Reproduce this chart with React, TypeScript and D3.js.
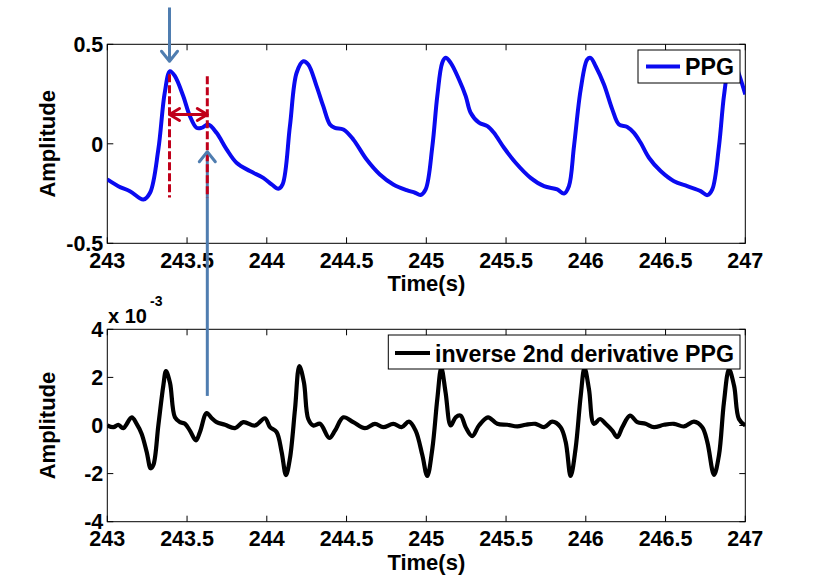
import React from "react";
import * as d3 from "d3";

const ppgT = [243.0,243.069,243.142,243.226,243.268,243.32,243.36,243.393,243.424,243.476,243.518,243.56,243.59,243.633,243.685,243.748,243.81,243.894,243.978,244.03,244.072,244.099,244.145,244.187,244.229,244.26,244.312,244.354,244.396,244.427,244.48,244.542,244.626,244.709,244.793,244.877,244.929,244.964,244.996,245.038,245.069,245.1,245.121,245.153,245.205,245.247,245.278,245.33,245.383,245.424,245.487,245.56,245.654,245.738,245.821,245.863,245.894,245.926,245.968,246.009,246.03,246.062,246.114,246.166,246.208,246.26,246.302,246.344,246.396,246.469,246.553,246.636,246.72,246.762,246.793,246.835,246.866,246.895,246.925,246.96,247.0];
const ppgV = [-0.179,-0.213,-0.238,-0.28,-0.246,-0.028,0.256,0.365,0.34,0.24,0.139,0.08,0.08,0.097,0.055,-0.028,-0.095,-0.137,-0.171,-0.204,-0.226,-0.204,0.089,0.357,0.415,0.399,0.29,0.189,0.097,0.08,0.072,0.022,-0.079,-0.154,-0.204,-0.233,-0.246,-0.257,-0.229,-0.012,0.24,0.407,0.432,0.407,0.323,0.24,0.156,0.106,0.089,0.055,-0.02,-0.095,-0.171,-0.213,-0.229,-0.25,-0.213,-0.012,0.273,0.424,0.432,0.39,0.298,0.173,0.097,0.085,0.055,0.005,-0.07,-0.137,-0.188,-0.213,-0.238,-0.258,-0.229,-0.012,0.24,0.38,0.42,0.35,0.248];

const derT = [243.0,243.038,243.069,243.1,243.153,243.184,243.215,243.247,243.272,243.289,243.32,243.351,243.368,243.393,243.424,243.456,243.487,243.518,243.556,243.581,243.623,243.655,243.685,243.738,243.8,243.853,243.926,243.988,244.02,244.061,244.093,244.12,244.145,244.177,244.204,244.233,244.26,244.292,244.334,244.392,244.428,244.48,244.542,244.615,244.678,244.73,244.793,244.845,244.891,244.933,244.975,245.006,245.038,245.069,245.094,245.121,245.153,245.184,245.215,245.247,245.288,245.33,245.387,245.445,245.508,245.571,245.623,245.685,245.738,245.79,245.842,245.874,245.905,245.936,245.968,245.992,246.02,246.051,246.089,246.124,246.166,246.197,246.229,246.277,246.323,246.375,246.427,246.49,246.553,246.615,246.678,246.73,246.762,246.804,246.835,246.866,246.898,246.93,246.96,247.0];
const derV = [0,-0.07,0.03,-0.11,0.34,0.07,-0.34,-1.1,-1.78,-1.64,0,1.65,2.26,1.78,0.34,0.14,0.07,-0.21,-0.62,-0.27,0.52,0.3,0.14,0.03,-0.11,0.14,0,0.3,-0.07,-0.27,-1.1,-2.06,-1.37,0.69,2.47,1.78,0.27,0,0.07,-0.52,-0.21,0.34,0.14,-0.11,0.07,-0.07,0.07,-0.07,0.16,-0.21,-1.23,-2.1,-0.96,1.1,2.4,1.37,0,0.34,0.41,-0.07,-0.44,0,0.34,0.07,0.03,-0.04,0.03,0.07,-0.07,0.16,-0.07,-0.69,-2.1,-0.96,1.23,2.4,1.5,0.07,0.27,0.07,-0.21,-0.48,-0.07,0.41,0.14,0.07,-0.07,0.03,0.07,-0.04,0.16,-0.07,-0.69,-2.05,-1.23,0.96,2.33,1.64,0.27,0];

const xTicks = [243, 243.5, 244, 244.5, 245, 245.5, 246, 246.5, 247];
const yTicksTop = [-0.5, 0, 0.5];
const yTicksBot = [-4, -2, 0, 2, 4];

const FONT = "'Liberation Sans', Arial, sans-serif";

export default function App() {
  const L = 107.3, R = 745.3;
  const top = { t: 44.3, b: 243.3 };
  const bot = { t: 329.3, b: 521.7 };
  const x = d3.scaleLinear().domain([243, 247]).range([L, R]);
  const yT = d3.scaleLinear().domain([-0.5, 0.5]).range([top.b, top.t]);
  const yB = d3.scaleLinear().domain([-4, 4]).range([bot.b, bot.t]);

  const ppgLine = d3.line<number>().x((_, i) => x(ppgT[i])).y((v) => yT(v)).curve(d3.curveCatmullRom.alpha(0.5));
  const derLine = d3.line<number>().x((_, i) => x(derT[i])).y((v) => yB(v)).curve(d3.curveCatmullRom.alpha(0.5));

  const tickLen = 6;
  const renderAxes = (yS: any, box: { t: number; b: number }, yTicks: number[], fmt: (v: number) => string) => (
    <g>
      <rect x={L} y={box.t} width={R - L} height={box.b - box.t} fill="none" stroke="#000" strokeWidth={1} />
      {xTicks.map((t) => (
        <g key={"x" + t}>
          <line x1={x(t)} x2={x(t)} y1={box.b} y2={box.b - tickLen} stroke="#000" />
          <line x1={x(t)} x2={x(t)} y1={box.t} y2={box.t + tickLen} stroke="#000" />
          <text x={x(t)} y={box.b + 24.5} textAnchor="middle" fontSize={21.5} fontWeight="bold" fontFamily={FONT}>{String(t)}</text>
        </g>
      ))}
      {yTicks.map((t) => (
        <g key={"y" + t}>
          <line x1={L} x2={L + tickLen} y1={yS(t)} y2={yS(t)} stroke="#000" />
          <line x1={R} x2={R - tickLen} y1={yS(t)} y2={yS(t)} stroke="#000" />
          <text x={L - 4} y={yS(t)} dy="0.36em" textAnchor="end" fontSize={21.5} fontWeight="bold" fontFamily={FONT}>{fmt(t)}</text>
        </g>
      ))}
      <text x={(L + R) / 2} y={box.b + 48} textAnchor="middle" fontSize={22} fontWeight="bold" fontFamily={FONT}>Time(s)</text>
      <text transform={`translate(55,${(box.t + box.b) / 2}) rotate(-90)`} textAnchor="middle" fontSize={22} fontWeight="bold" fontFamily={FONT}>Amplitude</text>
    </g>
  );

  // annotation positions in data coordinates
  const pkT = 243.39, dnT = 243.627;
  const arrowColor = "#4f7db0";
  const red = "#c0001a";
  const chevron = (tx: number, ty: number, dir: "up" | "down" | "left" | "right", c: string, w: number) => {
    const s = 8, h = 10;
    let pts: [number, number][] = [];
    if (dir === "down") pts = [[tx - s, ty - h], [tx, ty], [tx + s, ty - h]];
    if (dir === "up") pts = [[tx - s, ty + h], [tx, ty], [tx + s, ty + h]];
    if (dir === "left") pts = [[tx + h, ty - 6], [tx, ty], [tx + h, ty + 6]];
    if (dir === "right") pts = [[tx - h, ty - 6], [tx, ty], [tx - h, ty + 6]];
    return <polyline points={pts.map((p) => p.join(",")).join(" ")} fill="none" stroke={c} strokeWidth={w} strokeLinecap="round" strokeLinejoin="round" />;
  };

  return (
    <svg width={824} height={587} style={{ position: "absolute", left: 0, top: 0, background: "#fff" }}>
      <defs>
        <clipPath id="cpTop"><rect x={L} y={top.t} width={R - L} height={top.b - top.t} /></clipPath>
        <clipPath id="cpBot"><rect x={L} y={bot.t} width={R - L} height={bot.b - bot.t} /></clipPath>
      </defs>
      {renderAxes(yT, top, yTicksTop, (v) => String(v))}
      {renderAxes(yB, bot, yTicksBot, (v) => String(v))}

      <path d={ppgLine(ppgV) || ""} fill="none" stroke="#0a0af0" strokeWidth={4} clipPath="url(#cpTop)" strokeLinejoin="round" />
      <path d={derLine(derV) || ""} fill="none" stroke="#000" strokeWidth={4.2} clipPath="url(#cpBot)" strokeLinejoin="round" />

      {/* exponent label */}
      <text x={108} y={322.5} fontSize={20} fontWeight="bold" fontFamily={FONT}>x 10</text>
      <text x={150} y={306} fontSize={14} fontWeight="bold" fontFamily={FONT}>-3</text>

      {/* legends */}
      <rect x={638} y={50} width={102} height={33} fill="#fff" stroke="#000" strokeWidth={1} />
      <line x1={646} x2={680} y1={66.5} y2={66.5} stroke="#0a0af0" strokeWidth={4} />
      <text x={685} y={75} fontSize={23} fontWeight="bold" fontFamily={FONT} textLength={49} lengthAdjust="spacingAndGlyphs">PPG</text>
      <rect x={388.3} y={335} width={351.7} height={34} fill="#fff" stroke="#000" strokeWidth={1} />
      <line x1={395} x2={430} y1={353} y2={353} stroke="#000" strokeWidth={4.2} />
      <text x={435} y={361.5} fontSize={23} fontWeight="bold" fontFamily={FONT} textLength={299} lengthAdjust="spacingAndGlyphs">inverse 2nd derivative PPG</text>

      {/* annotations */}
      <line x1={x(pkT)} x2={x(pkT)} y1={yT(0.685)} y2={yT(0.415)} stroke={arrowColor} strokeWidth={3} />
      {chevron(x(pkT), yT(0.415), "down", arrowColor, 3)}
      <line x1={x(dnT)} x2={x(dnT)} y1={yB(1.23)} y2={yT(-0.04)} stroke={arrowColor} strokeWidth={3} />
      <line x1={x(pkT)} x2={x(pkT)} y1={yT(0.35)} y2={yT(-0.27)} stroke={red} strokeWidth={3} strokeDasharray="8,3" />
      <line x1={x(dnT)} x2={x(dnT)} y1={yT(0.34)} y2={yT(-0.27)} stroke={red} strokeWidth={3} strokeDasharray="8,3" />
      {chevron(x(dnT), yT(-0.04), "up", arrowColor, 3)}
      <line x1={x(pkT)} x2={x(dnT)} y1={yT(0.147)} y2={yT(0.147)} stroke={red} strokeWidth={3} />
      {chevron(x(pkT), yT(0.147), "left", red, 3)}
      {chevron(x(dnT), yT(0.147), "right", red, 3)}
    </svg>
  );
}
